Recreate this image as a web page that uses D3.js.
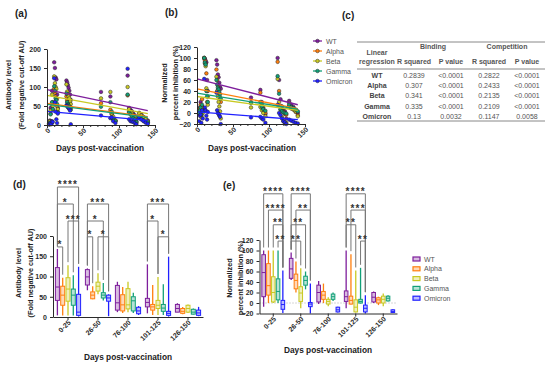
<!DOCTYPE html>
<html>
<head>
<meta charset="utf-8">
<title>Antibody binding and competition</title>
<script src="https://d3js.org/d3.v7.min.js"></script>
<style>
body { margin: 0; background: #fff; }
svg text { font-family: "Liberation Sans", Arial, sans-serif; }
</style>
</head>
<body>
<div id="chart"></div>
<script>

const variants = ["WT", "Alpha", "Beta", "Gamma", "Omicron"];
const colors = ["#7E1E9C", "#FF7F0E", "#C9C923", "#12A078", "#2020FF"];

// scatter samples (days post-vaccination), one value per variant
const days = [3,4,5,6,7,8,10,11,12,13,14,15,27,28,29,30,31,32,33,75,88,90,92,95,112,114,116,118,120,122,124,128,131,134,137,140];

const bindWT      = [5,12,45,8,90,60,165,150,125,120,80,45,117,112,105,98,90,80,66,87,75,30,18,12,130,45,40,36,30,25,9,32,28,21,15,12];
const bindAlpha   = [3,8,30,5,55,40,95,85,75,70,50,35,75,65,60,57,52,48,45,57,40,28,15,10,78,35,30,25,22,18,5,22,20,14,10,7];
const bindBeta    = [4,10,38,7,80,50,128,110,100,95,70,42,107,88,80,75,70,62,55,70,87,30,22,12,100,42,35,30,25,20,8,30,25,21,15,10];
const bindGamma   = [3,6,28,4,60,42,102,90,70,65,55,33,83,60,55,52,48,45,40,48,60,35,15,10,80,33,28,22,18,15,8,18,15,12,8,7];
const bindOmicron = [1,2,5,2,10,8,123,60,35,15,5,30,52,50,47,45,42,38,2,25,18,20,10,5,148,15,10,9,8,5,2,20,15,10,6,3];

const compWT      = [5,10,20,-5,12,8,100,98,95,92,60,40,96,88,70,65,55,47,44,28,42,20,10,-2,100,60,25,12,5,3,-10,22,15,11,5,0];
const compAlpha   = [0,8,15,0,25,5,100,95,90,72,40,30,79,60,50,43,35,28,20,20,37,15,7,0,93,40,13,5,2,-2,-3,12,8,6,2,-4];
const compBeta    = [-2,3,5,-8,10,0,100,90,85,45,20,15,66,40,30,20,12,3,-10,10,11,5,0,-6,62,20,6,-8,-15,-17,-18,18,10,7,3,-6];
const compGamma   = [0,5,10,-3,15,3,100,92,88,40,30,20,60,52,46,43,38,34,26,18,20,12,7,4,67,35,7,3,1,0,-1,15,11,9,6,3];
const compOmicron = [-15,-5,-3,-18,5,-10,62,10,5,-5,-12,2,37,5,0,-2,-5,-7,-20,-8,-7,-10,-12,-18,15,0,-4,-10,-15,-17,-20,-12,-14,-16,-18,-19];

// regression lines, value at fitDays[0] and fitDays[1]
const fitDays = [0, 140];
const bindFit = [[93,38],[57,22],[78,30],[54,20],[36,12]];
const compFit = [[62,15],[44,8],[30,5],[36,7],[2,-12]];

// table (c)
const tableRows = ["WT", "Alpha", "Beta", "Gamma", "Omicron"];
const bindR2 = ["0.2839", "0.307", "0.341", "0.335", "0.13"];
const bindP  = ["<0.0001", "<0.0001", "<0.0001", "<0.0001", "0.0032"];
const compR2 = ["0.2822", "0.2433", "0.2135", "0.2109", "0.1147"];
const compP  = ["<0.0001", "<0.0001", "<0.0001", "<0.0001", "0.0058"];

// box plots: [min, q1, median, q3, max] per bin
const bins = ["0-25", "26-50", "76-100", "101-125", "126-150"];
const bindBoxWT      = [[4,41,74,122,168],[66,79,99,117,120],[12,17,35,78,87],[9,25,36,46,130],[12,12,21,31,34]];
const bindBoxAlpha   = [[4,29,54,76,97],[44,45,54,62,76],[10,15,30,55,74],[5,17,25,31,79],[7,9,14,21,25]];
const bindBoxBeta    = [[4,39,69,97,128],[56,64,76,86,108],[12,20,30,70,87],[5,21,29,41,99],[10,12,21,29,31]];
const bindBoxGamma   = [[4,29,54,69,103],[41,47,54,60,84],[10,15,40,50,60],[5,14,22,31,81],[6,7,12,19,21]];
const bindBoxOmicron = [[1,4,12,56,124],[2,39,47,54,56],[5,8,15,24,27],[1,4,9,14,149],[2,4,10,17,25]];

const compBoxWT      = [[-7,12,58,92,100],[44,47,65,85,96],[-2,2,20,34,42],[-10,3,12,23,100],[0,2,11,20,22]];
const compBoxAlpha   = [[0,15,33,75,100],[20,27,43,55,79],[0,7,15,22,37],[-3,-2,5,13,93],[-4,0,6,10,12]];
const compBoxBeta    = [[0,2,20,50,100],[-10,3,19,31,66],[-6,-2,3,7,11],[-18,-17,-8,6,62],[-6,0,7,13,18]];
const compBoxGamma   = [[0,6,22,46,100],[26,34,43,51,60],[4,7,12,17,20],[-1,0,3,7,67],[3,4,9,13,15]];
const compBoxOmicron = [[-19,-12,-3,5,62],[-20,-7,-2,1,37],[-18,-17,-13,-8,-7],[-20,-17,-10,-4,15],[-19,-18,-16,-13,-12]];

// significance brackets: [bin, from variant, to variant, height (axis units), label]
const bindSig = [
    [0,0,4,321,"****"],[0,0,3,279,"*"],[0,2,4,237,"***"],[0,0,1,173,"*"],
    [1,0,4,279,"***"],[1,0,3,237,"*"],[1,0,1,198,"*"],[1,2,4,198,"*"],
    [3,0,4,279,"***"],[3,0,2,237,"*"],[3,2,4,198,"*"]
];
const compSig = [
    [0,0,4,208,"****"],[0,1,4,177,"****"],[0,2,4,149,"**"],[0,3,4,118,"**"],
    [1,0,4,208,"****"],[1,1,4,177,"**"],[1,0,3,149,"**"],[1,0,2,118,"**"],
    [3,0,4,208,"****"],[3,1,4,177,"***"],[3,0,2,149,"**"],[3,3,4,118,"**"]
];

const ink = "#2a2a2a";

let svg = d3.select("#chart")
    .append("svg")
        .attr("width", 550)
        .attr("height", 366);

function styleAxis(g) {
    g.attr("font-family", "Liberation Sans, Arial, sans-serif")
     .attr("font-size", 7)
     .attr("font-weight", "bold");
    g.select(".domain").attr("stroke", ink).attr("stroke-width", 1);
    g.selectAll(".tick line").attr("stroke", ink);
    g.selectAll(".tick text").attr("fill", ink);
}

function rotateLabels(g) {
    g.selectAll(".tick text")
        .attr("text-anchor", "end")
        .attr("x", -2)
        .attr("y", 4)
        .attr("dy", "0.35em")
        .attr("transform", "rotate(-45)");
}

function label(x, y, txt, size, anchor, rot) {
    let t = svg.append("text")
        .attr("font-size", size)
        .attr("font-weight", "bold")
        .attr("fill", "#222")
        .attr("text-anchor", anchor || "start")
        .text(txt);
    if (rot) t.attr("transform", "translate(" + x + "," + y + ") rotate(-90)");
    else t.attr("x", x).attr("y", y);
    return t;
}

// ---------- scatter panels (a) and (b)
function scatter(xScale, yScale, series, fits, yTicks) {
    let g = svg.append("g");
    let base = yScale.range()[0];
    let left = xScale.range()[0];

    series.forEach(function(vals, i) {
        g.selectAll(null)
            .data(vals)
            .enter()
            .append("circle")
            .attr("cx", function(d, k) { return xScale(days[k]); })
            .attr("cy", function(d) { return yScale(d); })
            .attr("r", 1.8)
            .attr("fill", colors[i])
            .attr("stroke", "#222")
            .attr("stroke-width", 0.5);
    });

    g.selectAll(null)
        .data(fits)
        .enter()
        .append("line")
        .attr("x1", xScale(fitDays[0]))
        .attr("x2", xScale(fitDays[1]))
        .attr("y1", function(d) { return yScale(d[0]); })
        .attr("y2", function(d) { return yScale(d[1]); })
        .attr("stroke", function(d, i) { return colors[i]; })
        .attr("stroke-width", 1.3);

    let minor = g.append("g")
        .attr("transform", "translate(0," + base + ")")
        .call(d3.axisBottom(xScale).tickValues(d3.range(0, 151, 10)).tickSize(2).tickFormat(""));
    minor.select(".domain").remove();
    minor.selectAll(".tick line").attr("stroke", ink);

    let xAxis = g.append("g")
        .attr("transform", "translate(0," + base + ")")
        .call(d3.axisBottom(xScale).tickValues([0, 50, 100, 150]).tickSize(3).tickSizeOuter(0));
    styleAxis(xAxis);
    rotateLabels(xAxis);

    let yAxis = g.append("g")
        .attr("transform", "translate(" + left + ",0)")
        .call(d3.axisLeft(yScale).tickValues(yTicks).tickSize(3).tickSizeOuter(0));
    styleAxis(yAxis);
}

let xA = d3.scaleLinear().domain([0, 150]).range([47, 155]);
let yA = d3.scaleLinear().domain([0, 200]).range([125, 49]);
scatter(xA, yA, [bindWT, bindAlpha, bindBeta, bindGamma, bindOmicron], bindFit, [0, 50, 100, 150, 200]);

let xB = d3.scaleLinear().domain([0, 150]).range([197, 305]);
let yB = d3.scaleLinear().domain([-20, 120]).range([124, 47]);
scatter(xB, yB, [compWT, compAlpha, compBeta, compGamma, compOmicron], compFit, d3.range(-20, 121, 20));

label(15, 17, "(a)", 10);
label(165, 16, "(b)", 10);
label(342, 19, "(c)", 10);
label(13, 188, "(d)", 10);
label(223, 189, "(e)", 10);

const yTitle = 7.3;
label(11, 85, "Antibody level", yTitle, "middle", true);
label(23.5, 85, "(Fold negative cut-off AU)", yTitle, "middle", true);
label(100, 151, "Days post-vaccination", 8.3, "middle");
label(167, 83, "Normalized", yTitle, "middle", true);
label(178, 83, "percent inhibition (%)", yTitle, "middle", true);
label(252, 151, "Days post-vaccination", 8.3, "middle");

// legend (a)/(b)
let leg1 = svg.append("g");
variants.forEach(function(v, i) {
    let y = 41 + i * 10;
    leg1.append("line").attr("x1", 313).attr("x2", 322).attr("y1", y).attr("y2", y)
        .attr("stroke", colors[i]).attr("stroke-width", 1.3);
    leg1.append("circle").attr("cx", 317.5).attr("cy", y).attr("r", 1.8)
        .attr("fill", colors[i]).attr("stroke", "#222").attr("stroke-width", 0.5);
    leg1.append("text").attr("x", 326).attr("y", y + 2.5).attr("font-size", 7)
        .attr("fill", "#555").text(v);
});

// ---------- table (c)
let tbl = svg.append("g").attr("font-size", 7);
[42, 69, 121].forEach(function(y) {
    tbl.append("line").attr("x1", 357).attr("x2", 545).attr("y1", y).attr("y2", y)
        .attr("stroke", "#888").attr("stroke-width", 1);
});
let hdr = [
    [377, 55, "Linear"], [377, 64, "regression"],
    [433, 49, "Binding"], [507, 49, "Competition"],
    [414, 64, "R squared"], [451, 64, "P value"],
    [489, 64, "R squared"], [527, 64, "P value"]
];
hdr.forEach(function(h) {
    tbl.append("text").attr("x", h[0]).attr("y", h[1]).attr("text-anchor", "middle")
        .attr("font-weight", "bold").attr("fill", "#555").text(h[2]);
});
tableRows.forEach(function(r, i) {
    let y = 78 + i * 10.2;
    tbl.append("text").attr("x", 377).attr("y", y).attr("text-anchor", "middle")
        .attr("font-weight", "bold").attr("fill", "#444").text(r);
    [[414, bindR2], [451, bindP], [489, compR2], [527, compP]].forEach(function(c) {
        tbl.append("text").attr("x", c[0]).attr("y", y).attr("text-anchor", "middle")
            .attr("fill", "#555").text(c[1][i]);
    });
});

// ---------- box panels (d) and (e)
function boxPanel(xBand, yScale, boxes, sigs, step, bw, yTicks, zeroLine) {
    let g = svg.append("g");
    let base = yScale.range()[0];
    let left = xBand.range()[0];

    function cx(b, v) { return xBand(bins[b]) + xBand.bandwidth() / 2 + (v - 2) * step; }

    if (zeroLine) {
        g.append("line").attr("x1", left).attr("x2", xBand.range()[1])
            .attr("y1", yScale(0)).attr("y2", yScale(0))
            .attr("stroke", "#999").attr("stroke-width", 0.8).attr("stroke-dasharray", "1,2");
    }

    let recs = [];
    boxes.forEach(function(series, v) {
        series.forEach(function(s, b) { recs.push({v: v, b: b, s: s}); });
    });

    g.selectAll(null).data(recs).enter().append("line")
        .attr("x1", function(d) { return cx(d.b, d.v); })
        .attr("x2", function(d) { return cx(d.b, d.v); })
        .attr("y1", function(d) { return yScale(d.s[0]); })
        .attr("y2", function(d) { return yScale(d.s[4]); })
        .attr("stroke", function(d) { return colors[d.v]; })
        .attr("stroke-width", 1.3);

    g.selectAll(null).data(recs).enter().append("rect")
        .attr("x", function(d) { return cx(d.b, d.v) - bw / 2; })
        .attr("y", function(d) { return yScale(d.s[3]); })
        .attr("width", bw)
        .attr("height", function(d) { return Math.max(1, yScale(d.s[1]) - yScale(d.s[3])); })
        .attr("fill", "#fff")
        .attr("stroke", function(d) { return colors[d.v]; })
        .attr("stroke-width", 1);

    g.selectAll(null).data(recs).enter().append("rect")
        .attr("x", function(d) { return cx(d.b, d.v) - bw / 2; })
        .attr("y", function(d) { return yScale(d.s[3]); })
        .attr("width", bw)
        .attr("height", function(d) { return Math.max(1, yScale(d.s[1]) - yScale(d.s[3])); })
        .attr("fill", function(d) { return colors[d.v]; })
        .attr("fill-opacity", 0.3)
        .attr("stroke", "none");

    g.selectAll(null).data(recs).enter().append("line")
        .attr("x1", function(d) { return cx(d.b, d.v) - bw / 2; })
        .attr("x2", function(d) { return cx(d.b, d.v) + bw / 2; })
        .attr("y1", function(d) { return yScale(d.s[2]); })
        .attr("y2", function(d) { return yScale(d.s[2]); })
        .attr("stroke", function(d) { return colors[d.v]; })
        .attr("stroke-width", 1);

    // brackets
    sigs.forEach(function(s) {
        let x1 = cx(s[0], s[1]), x2 = cx(s[0], s[2]);
        let yb = yScale(s[3]);
        let y1 = yScale(boxes[s[1]][s[0]][4]) - 3;
        let y2 = yScale(boxes[s[2]][s[0]][4]) - 3;
        g.append("path")
            .attr("d", "M" + x1 + "," + y1 + "V" + yb + "H" + x2 + "V" + y2)
            .attr("fill", "none").attr("stroke", "#777").attr("stroke-width", 1);
        g.append("text").attr("x", (x1 + x2) / 2).attr("y", yb + 1.5)
            .attr("text-anchor", "middle").attr("font-size", 10).attr("font-weight", "bold")
            .attr("letter-spacing", 1.2).attr("fill", "#333").text(s[4]);
    });

    let xAxis = g.append("g")
        .attr("transform", "translate(0," + base + ")")
        .call(d3.axisBottom(xBand).tickSize(3).tickSizeOuter(0));
    styleAxis(xAxis);
    rotateLabels(xAxis);

    let yAxis = g.append("g")
        .attr("transform", "translate(" + left + ",0)")
        .call(d3.axisLeft(yScale).tickValues(yTicks).tickSize(3).tickSizeOuter(0));
    styleAxis(yAxis);
}

let xD = d3.scaleBand().domain(bins).range([53, 203]);
let yD = d3.scaleLinear().domain([0, 200]).range([317, 236]);
boxPanel(xD, yD, [bindBoxWT, bindBoxAlpha, bindBoxBeta, bindBoxGamma, bindBoxOmicron], bindSig, 5.3, 4, [0, 50, 100, 150, 200], false);

let xE = d3.scaleBand().domain(bins).range([259.5, 397]);
let yE = d3.scaleLinear().domain([-20, 120]).range([313.5, 240]);
boxPanel(xE, yE, [compBoxWT, compBoxAlpha, compBoxBeta, compBoxGamma, compBoxOmicron], compSig, 4.8, 3.6, d3.range(-20, 121, 20), true);

label(21, 273, "Antibody level", yTitle, "middle", true);
label(33, 273, "(Fold negative cut-off AU)", yTitle, "middle", true);
label(128, 360, "Days post-vaccination", 8.3, "middle");
label(232, 278, "Normalized", yTitle, "middle", true);
label(242.5, 278, "percent inhibition (%)", yTitle, "middle", true);
label(328, 353, "Days post-vaccination", 8.3, "middle");

// legend (e)
let leg2 = svg.append("g");
variants.forEach(function(v, i) {
    let y = 259 + i * 9.8;
    leg2.append("rect").attr("x", 413).attr("y", y - 2).attr("width", 7).attr("height", 4)
        .attr("fill", "#fff").attr("stroke", colors[i]).attr("stroke-width", 1.2);
    leg2.append("rect").attr("x", 413).attr("y", y - 2).attr("width", 7).attr("height", 4)
        .attr("fill", colors[i]).attr("fill-opacity", 0.3);
    leg2.append("text").attr("x", 424).attr("y", y + 2.5).attr("font-size", 7)
        .attr("fill", "#555").text(v);
});

</script>
</body>
</html>
